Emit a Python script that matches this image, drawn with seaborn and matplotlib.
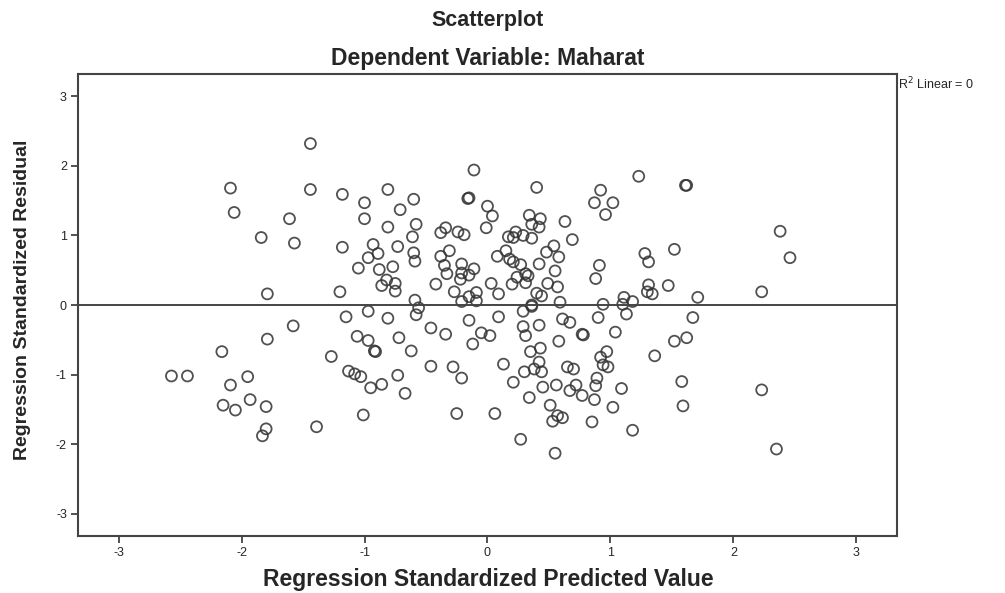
import matplotlib
matplotlib.use('Agg')
import matplotlib.pyplot as plt
import seaborn as sns
import pandas as pd

# Regression standardized predicted value / residual pairs (read from SPSS output)
pred = [-1.44, -2.09, -1.44, -1.18, -0.81, -1.00, -0.60, -2.06, -1.61, -0.71,
        -1.00, -0.58, -0.81, -1.84, -1.57, -1.18, -0.93, -0.73, -0.61, -0.89,
        -0.97, -0.60, -0.59, -1.05, -0.88, -0.77, -0.82, -0.75, -0.86, -0.75,
        -1.79, -1.20, -0.59,
        -0.11, 0.40, 1.23, -0.16, -0.15, 0.00, 0.04, 0.92, 0.87, 1.02, 0.96,
        -0.34, -0.38, -0.24, -0.19, -0.01, 0.34, 0.43, 0.36, 0.42, 0.63,
        0.23, 0.17, 0.21, 0.29, 0.36, 0.69, -0.31, -0.38, -0.35, -0.33,
        -0.21, -0.11, -0.21, -0.15, -0.22, -0.42, -0.27, -0.09, -0.15, -0.09,
        -0.21, 0.08, 0.15, 0.18, 0.21, 0.27, 0.31, 0.33, 0.24, 0.31,
        0.20, 0.03, 0.09, 0.42, 0.54, 0.48, 0.58, 0.55, 0.49, 0.57,
        0.40, 0.44, 0.59, 0.36, 0.91, 0.88, 0.94, 1.11, 1.18, 1.10,
        1.61, 1.62, 2.38, 1.52, 1.28, 1.31, 2.46, 1.31, 1.30, 1.34, 1.47,
        1.71, 2.23,
        -0.97, -1.15, -0.81, -0.56, -0.58, -1.58, -1.79, -1.06, -0.97, -0.72,
        -0.92, -0.91, -0.62, -2.16, -1.27, -2.44, -2.57, -1.95, -2.09, -1.13,
        -1.08, -1.03, -0.95, -0.86, -0.73, -0.67, -2.15, -2.05, -1.93, -1.80,
        -1.01, -1.39, -1.80, -1.83,
        -0.46, -0.34, -0.15, 0.09, -0.05, 0.02, -0.12, -0.46, -0.28, -0.21,
        -0.25, 0.06, 0.13, 0.21, 0.29, 0.36, 0.29, 0.42, 0.31, 0.61,
        0.67, 0.58, 0.77, 0.78, 0.90, 1.13, 1.04, 0.35, 0.43, 0.42,
        0.38, 0.44, 0.30, 0.65, 0.70, 0.97, 0.92, 0.94, 0.98, 0.89,
        0.88, 1.09, 1.02, 1.18, 0.45, 0.56, 0.67, 0.72, 0.77, 0.87,
        0.34, 0.51, 0.57, 0.61, 0.53, 0.85, 0.27, 0.55,
        1.67, 1.52, 1.62, 1.36, 1.58, 2.23, 1.59, 2.35]

resid = [2.32, 1.68, 1.66, 1.59, 1.66, 1.47, 1.52, 1.33, 1.24, 1.37,
         1.24, 1.16, 1.12, 0.97, 0.89, 0.83, 0.87, 0.84, 0.98, 0.74,
         0.68, 0.75, 0.63, 0.53, 0.51, 0.55, 0.36, 0.31, 0.28, 0.20,
         0.16, 0.19, 0.07,
         1.94, 1.69, 1.85, 1.53, 1.54, 1.42, 1.28, 1.65, 1.47, 1.47, 1.30,
         1.11, 1.04, 1.05, 1.01, 1.11, 1.29, 1.24, 1.16, 1.12, 1.20,
         1.05, 0.98, 0.97, 1.00, 0.96, 0.94, 0.78, 0.70, 0.57, 0.45,
         0.59, 0.52, 0.46, 0.43, 0.37, 0.30, 0.19, 0.18, 0.12, 0.06,
         0.05, 0.70, 0.78, 0.66, 0.62, 0.58, 0.45, 0.42, 0.40, 0.32,
         0.30, 0.31, 0.16, 0.59, 0.85, 0.76, 0.69, 0.49, 0.31, 0.26,
         0.17, 0.13, 0.04, 0.00, 0.57, 0.38, 0.01, 0.11, 0.05, 0.01,
         1.72, 1.72, 1.06, 0.80, 0.74, 0.62, 0.68, 0.29, 0.19, 0.16, 0.28,
         0.11, 0.19,
         -0.09, -0.17, -0.19, -0.04, -0.14, -0.30, -0.49, -0.45, -0.51, -0.47,
         -0.66, -0.67, -0.66, -0.67, -0.74, -1.02, -1.02, -1.03, -1.15, -0.95,
         -0.99, -1.03, -1.19, -1.14, -1.01, -1.27, -1.44, -1.51, -1.36, -1.46,
         -1.58, -1.75, -1.78, -1.88,
         -0.33, -0.42, -0.22, -0.17, -0.40, -0.44, -0.56, -0.88, -0.89, -1.05,
         -1.56, -1.56, -0.85, -1.11, -0.09, -0.02, -0.31, -0.29, -0.44, -0.20,
         -0.25, -0.52, -0.42, -0.43, -0.18, -0.13, -0.39, -0.67, -0.62, -0.82,
         -0.92, -0.96, -0.96, -0.89, -0.92, -0.67, -0.75, -0.86, -0.89, -1.05,
         -1.16, -1.20, -1.47, -1.80, -1.18, -1.15, -1.23, -1.15, -1.30, -1.36,
         -1.33, -1.44, -1.59, -1.62, -1.67, -1.68, -1.93, -2.13,
         -0.18, -0.52, -0.47, -0.73, -1.10, -1.22, -1.45, -2.07]

ticks = [-3, -2, -1, 0, 1, 2, 3]

df = pd.DataFrame({'pred': pred, 'resid': resid})

sns.set_style('ticks')
plt.rcParams['font.family'] = ['Liberation Sans', 'DejaVu Sans']
plt.rcParams['axes.unicode_minus'] = False

fig = plt.figure(figsize=(10.05, 5.93), dpi=100)
ax = fig.add_axes([0.0776, 0.0961, 0.8149, 0.7791])

sns.scatterplot(data=df, x='pred', y='resid', ax=ax, s=62, marker='o',
                facecolor='none', edgecolor='#333333', linewidth=1.3, alpha=0.85)

ax.axhline(0, color='#444444', lw=1.4, zorder=1)

ax.set_xlim(-3.33, 3.33)
ax.set_ylim(-3.32, 3.32)
ax.set_xticks(ticks)
ax.set_yticks(ticks)
ax.tick_params(labelsize=9, length=5, width=1.2, color='#333333', pad=3)
for sp in ax.spines.values():
    sp.set_visible(True)
    sp.set_color('#444444')
    sp.set_linewidth(1.5)

ax.set_xlabel('')
ax.set_ylabel('')
fig.text(0.4856, 0.022, 'Regression Standardized Predicted Value', ha='center', va='center',
         fontsize=16.5, fontweight='bold')
fig.text(0.022, 0.494, 'Regression Standardized Residual', ha='center', va='center',
         rotation=90, fontsize=14, fontweight='bold')
fig.text(0.4856, 0.966, 'Scatterplot', ha='center', va='center', fontsize=15.5, fontweight='bold')
fig.text(0.4856, 0.902, 'Dependent Variable: Maharat', ha='center', va='center',
         fontsize=16.5, fontweight='bold')
fig.text(0.8935, 0.858, 'R$^2$ Linear = 0', ha='left', va='center', fontsize=9)

fig.savefig('out.png', dpi=100)
